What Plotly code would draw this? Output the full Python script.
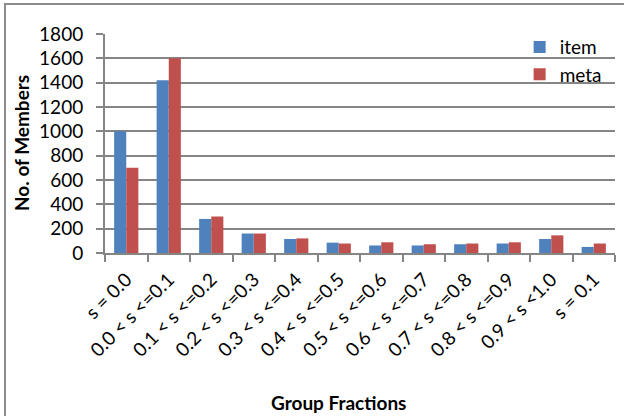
import plotly.graph_objects as go

# Group-fraction bins and member counts per series
categories = [
    "s = 0.0", "0.0 < s <=0.1", "0.1 < s <=0.2", "0.2 < s <=0.3",
    "0.3 < s <=0.4", "0.4 < s <=0.5", "0.5 < s <=0.6", "0.6 < s <=0.7",
    "0.7 < s <=0.8", "0.8 < s <=0.9", "0.9 < s <1.0", "s = 0.1",
]
item = [1000, 1420, 280, 160, 115, 85, 62, 62, 72, 78, 115, 50]
meta = [700, 1600, 300, 160, 120, 78, 88, 72, 78, 88, 145, 78]
y_ticks = [0, 200, 400, 600, 800, 1000, 1200, 1400, 1600, 1800]

FONT = "Lato, 'Open Sans', sans-serif"
GRID = "#858585"
FS = 19

fig = go.Figure()
fig.add_trace(go.Bar(x=categories, y=item, name="item", showlegend=True,
                     marker=dict(color="#4F81BD", line=dict(width=0)),
                     legend="legend"))
fig.add_trace(go.Bar(x=categories, y=meta, name="meta", showlegend=True,
                     marker=dict(color="#C0504D", line=dict(width=0)),
                     legend="legend2"))

legend_style = dict(font=dict(family=FONT, size=FS, color="#000000"),
                    bgcolor="rgba(0,0,0,0)", xanchor="left", yanchor="middle",
                    x=0.813, itemclick=False, itemdoubleclick=False, visible=True)

fig.update_layout(
    width=624, height=416, autosize=False,
    margin=dict(l=105, r=9, t=34, b=163),
    paper_bgcolor="white", plot_bgcolor="white",
    font=dict(family=FONT, size=FS, color="#000000"),
    barmode="group", bargap=0.43, bargroupgap=0,
    hovermode=False, showlegend=True,
    legend=dict(y=0.94, **legend_style),
    legend2=dict(y=0.815, **legend_style),
    xaxis=dict(
        type="category", tickson="boundaries", ticks="outside", ticklen=7,
        tickwidth=2, tickcolor=GRID, showline=True, linecolor=GRID, linewidth=2,
        tickangle=-45, showgrid=False, ticklabelstandoff=6,
        tickfont=dict(family=FONT, size=FS),
    ),
    yaxis=dict(
        range=[0, 1800], tickvals=y_ticks, showgrid=True, gridcolor=GRID,
        gridwidth=2, showline=True, linecolor=GRID, linewidth=2,
        ticks="outside", ticklen=7, tickwidth=2, tickcolor=GRID,
        zeroline=False, ticklabelstandoff=9,
        tickfont=dict(family=FONT, size=FS),
    ),
    annotations=[
        dict(text="<b>No. of Members</b>", textangle=-90, xref="paper", yref="paper",
             x=(21 - 105) / 510, y=(253 - 143) / 219, xanchor="center", yanchor="middle",
             showarrow=False, font=dict(family=FONT, size=FS)),
        dict(text="<b>Group Fractions</b>", xref="paper", yref="paper",
             x=(338 - 105) / 510, y=(253 - 402) / 219, xanchor="center", yanchor="middle",
             showarrow=False, font=dict(family=FONT, size=FS)),
    ],
    shapes=[
        # chart-area border
        dict(type="rect", xref="paper", yref="paper",
             x0=(5 - 105) / 510, x1=1.5, y0=-1.5, y1=(253 - 4) / 219,
             line=dict(color="#8c8c8c", width=2), fillcolor="rgba(0,0,0,0)", layer="below"),
    ],
)

fig.write_html("out.html")
